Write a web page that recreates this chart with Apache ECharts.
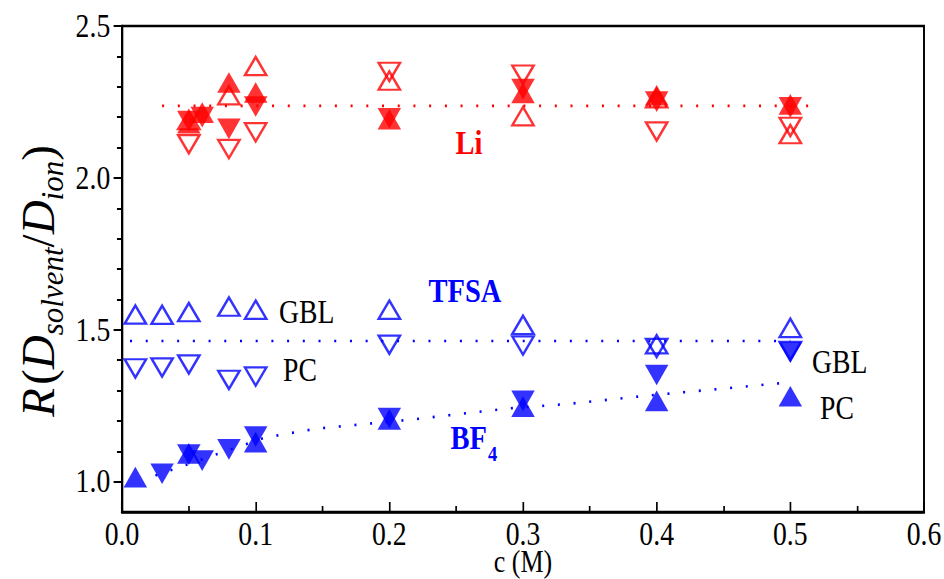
<!DOCTYPE html>
<html>
<head>
<meta charset="utf-8">
<script src="https://cdn.jsdelivr.net/npm/echarts@6/dist/echarts.min.js"></script>
<style>
  html, body { margin: 0; padding: 0; background: #fff; width: 944px; height: 579px; overflow: hidden; }
  #chart { height: 579px; transform-origin: 0 0; }
</style>
</head>
<body>
<div id="chart"></div>
<script>
// Horizontal condensation of the whole figure (narrow serif lettering).
const SX = 0.84;
const W = 944 / SX;
const X = px => px / SX;   // figure x -> unscaled canvas x

// ---- tick labels ----
const xTicks = [0.0, 0.1, 0.2, 0.3, 0.4, 0.5, 0.6];
const yMajorTicks = [1.0, 1.5, 2.0, 2.5];
const yMinorTicks = [1.1, 1.2, 1.3, 1.4, 1.6, 1.7, 1.8, 1.9, 2.1, 2.2, 2.3, 2.4];

// ---- Li+ (red) ----
const liTfsaGblC = [0.05, 0.08, 0.10, 0.20, 0.30, 0.40, 0.50];
const liTfsaGblR = [2.190, 2.272, 2.368, 2.320, 2.203, 2.262, 2.144];
const liTfsaPcC  = [0.05, 0.08, 0.10, 0.20, 0.30, 0.40, 0.50];
const liTfsaPcR  = [2.111, 2.095, 2.150, 2.349, 2.340, 2.153, 2.168];
const liBf4GblC  = [0.05, 0.06, 0.08, 0.10, 0.20, 0.30, 0.40, 0.50];
const liBf4GblR  = [2.187, 2.200, 2.161, 2.235, 2.196, 2.292, 2.251, 2.232];
const liBf4PcC   = [0.05, 0.06, 0.08, 0.10, 0.20, 0.30, 0.40, 0.50];
const liBf4PcR   = [2.180, 2.215, 2.314, 2.281, 2.193, 2.280, 2.272, 2.242];
const liMeanC = [0.03, 0.52];
const liMeanR = [2.237, 2.237];

// ---- TFSA- (blue, open) ----
const tfsaGblC = [0.01, 0.03, 0.05, 0.08, 0.10, 0.20, 0.30, 0.40, 0.50];
const tfsaGblR = [1.550, 1.549, 1.558, 1.576, 1.566, 1.566, 1.516, 1.452, 1.506];
const tfsaPcC  = [0.01, 0.03, 0.05, 0.08, 0.10, 0.20, 0.30, 0.40, 0.50];
const tfsaPcR  = [1.373, 1.376, 1.386, 1.335, 1.346, 1.451, 1.448, 1.440, 1.430];
const tfsaMeanC = [0.006, 0.50];
const tfsaMeanR = [1.463, 1.463];

// ---- BF4- (blue, filled) ----
const bf4GblC = [0.03, 0.05, 0.06, 0.08, 0.10, 0.20, 0.30, 0.40, 0.50];
const bf4GblR = [1.026, 1.089, 1.069, 1.106, 1.148, 1.209, 1.266, 1.351, 1.425];
const bf4PcC  = [0.01, 0.05, 0.10, 0.20, 0.30, 0.40, 0.50];
const bf4PcR  = [1.015, 1.093, 1.130, 1.205, 1.247, 1.266, 1.281];
const bf4TrendC = [0.025, 0.072, 0.107, 0.145, 0.216, 0.287, 0.334, 0.393, 0.500];
const bf4TrendR = [1.020, 1.092, 1.145, 1.174, 1.204, 1.240, 1.256, 1.283, 1.327];

const RED = '#ff0000', BLUE = '#0000ff';
const FONT = 'Liberation Serif';
const UP = 'path://M5,0L10,8.66L0,8.66Z';
const DOWN = 'path://M0,0L10,0L5,8.66Z';

const pairs = (cs, vs) => cs.map((c, i) => [c, vs[i]]);

function markers(cs, vs, shape, color, filled) {
  return {
    type: 'scatter',
    data: pairs(cs, vs),
    symbol: shape,
    symbolSize: filled ? [23.5 / SX, 20.7] : [21.4 / SX, 18.2],
    itemStyle: filled
      ? { color: color }
      : { color: 'rgba(0,0,0,0)', borderColor: color, borderWidth: 2.6 },
    silent: true,
    z: filled ? 3 : 4
  };
}

function dotted(cs, vs, color) {
  return {
    type: 'line',
    data: pairs(cs, vs),
    symbol: 'none',
    lineStyle: { color: color, width: 2.6, type: [2.4, 16.3], cap: 'butt' },
    silent: true,
    z: 2
  };
}

const el = document.getElementById('chart');
el.style.width = W + 'px';
el.style.transform = 'scaleX(' + SX + ')';
const chart = echarts.init(el, null, { renderer: 'svg', width: W, height: 579 });

const axisLabelStyle = { color: '#000', fontFamily: FONT, fontSize: 33 };

chart.setOption({
  animation: false,
  backgroundColor: '#fff',
  grid: {
    left: X(122), right: W - X(924), top: 26, bottom: 67,
    outerBoundsMode: 'none', containLabel: false,
    show: true, borderColor: '#000', borderWidth: 2.3, backgroundColor: 'rgba(0,0,0,0)'
  },
  xAxis: {
    type: 'value', min: 0, max: 0.6, interval: 0.1,
    axisLine: { lineStyle: { color: '#000', width: 2.6 } },
    axisTick: { inside: true, length: 10, lineStyle: { color: '#000', width: 2 } },
    minorTick: { show: true, splitNumber: 2, length: 6, lineStyle: { color: '#000', width: 2 } },
    splitLine: { show: false },
    axisLabel: Object.assign({ margin: 9, lineHeight: 26, formatter: v => v.toFixed(1) }, axisLabelStyle),
    name: 'c (M)', nameLocation: 'middle', nameGap: 36, nameMoveOverlap: false,
    nameTextStyle: { color: '#000', fontFamily: FONT, fontSize: 31, lineHeight: 26 }
  },
  yAxis: [
    {
      type: 'value', min: 0.9, max: 2.5,
      axisLine: { show: true, lineStyle: { color: '#000', width: 2.6 } },
      axisTick: { show: true, length: 10, customValues: yMajorTicks, lineStyle: { color: '#000', width: 2 } },
      splitLine: { show: false },
      axisLabel: Object.assign({ margin: 14, customValues: yMajorTicks, formatter: v => v.toFixed(1) }, axisLabelStyle)
    },
    {
      type: 'value', min: 0.9, max: 2.5, position: 'left',
      axisLine: { show: false },
      axisTick: { show: true, length: 6, customValues: yMinorTicks, lineStyle: { color: '#000', width: 2 } },
      axisLabel: { show: false },
      splitLine: { show: false }
    }
  ],
  series: [
    dotted(liMeanC, liMeanR, RED),
    dotted(tfsaMeanC, tfsaMeanR, BLUE),
    dotted(bf4TrendC, bf4TrendR, BLUE),
    markers(liTfsaGblC, liTfsaGblR, UP, RED, false),
    markers(liTfsaPcC, liTfsaPcR, DOWN, RED, false),
    markers(liBf4GblC, liBf4GblR, DOWN, RED, true),
    markers(liBf4PcC, liBf4PcR, UP, RED, true),
    markers(tfsaGblC, tfsaGblR, UP, BLUE, false),
    markers(tfsaPcC, tfsaPcR, DOWN, BLUE, false),
    markers(bf4GblC, bf4GblR, DOWN, BLUE, true),
    markers(bf4PcC, bf4PcR, UP, BLUE, true)
  ],
  graphic: [
    // y-axis title, read bottom to top
    {
      type: 'text', x: X(38), y: 281, rotation: Math.PI / 2, scaleY: 1 / SX,
      style: {
        text: '{i|R} {n|(}{i|D}{s|solvent}{n|/}{i|D}{s|ion}{n|)}',
        align: 'center', verticalAlign: 'middle', fill: '#000',
        rich: {
          i: { font: 'italic 47px "Liberation Serif"', lineHeight: 60, verticalAlign: 'middle', fill: '#000' },
          n: { font: '47px "Liberation Serif"', lineHeight: 60, verticalAlign: 'middle', fill: '#000' },
          s: { font: 'italic 31px "Liberation Serif"', lineHeight: 33, verticalAlign: 'bottom', fill: '#000' }
        }
      }
    },
    { type: 'text', x: X(469), y: 143, style: { text: 'Li', fill: RED, font: 'bold 34px "Liberation Serif"', align: 'center', verticalAlign: 'middle' } },
    { type: 'text', x: X(465), y: 291, style: { text: 'TFSA', fill: BLUE, font: 'bold 34px "Liberation Serif"', align: 'center', verticalAlign: 'middle' } },
    { type: 'text', x: X(487), y: 438, style: { text: 'BF', fill: BLUE, font: 'bold 34px "Liberation Serif"', align: 'right', verticalAlign: 'middle' } },
    { type: 'text', x: X(488), y: 453, style: { text: '4', fill: BLUE, font: 'bold 22px "Liberation Serif"', align: 'left', verticalAlign: 'middle' } },
    { type: 'text', x: X(279), y: 312, style: { text: 'GBL', fill: '#000', font: '33px "Liberation Serif"', align: 'left', verticalAlign: 'middle' } },
    { type: 'text', x: X(283), y: 370, style: { text: 'PC', fill: '#000', font: '33px "Liberation Serif"', align: 'left', verticalAlign: 'middle' } },
    { type: 'text', x: X(812), y: 362, style: { text: 'GBL', fill: '#000', font: '33px "Liberation Serif"', align: 'left', verticalAlign: 'middle' } },
    { type: 'text', x: X(820), y: 408, style: { text: 'PC', fill: '#000', font: '33px "Liberation Serif"', align: 'left', verticalAlign: 'middle' } }
  ]
});
</script>
</body>
</html>
